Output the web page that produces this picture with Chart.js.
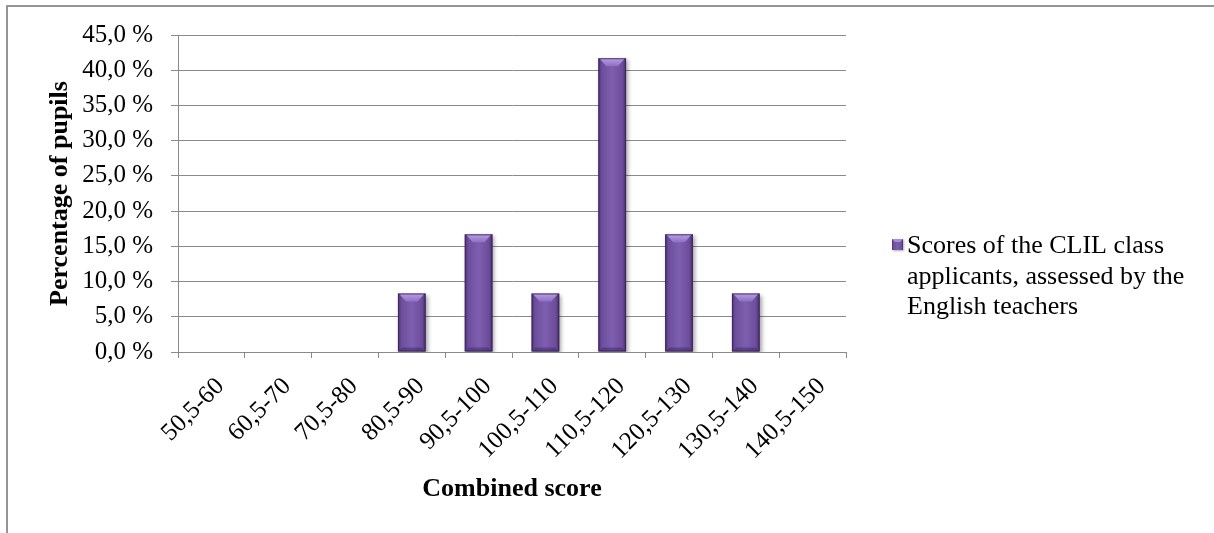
<!DOCTYPE html>
<html>
<head>
<meta charset="utf-8">
<script src="https://cdn.jsdelivr.net/npm/chart.js@4.4.1/dist/chart.umd.min.js"></script>
<style>
  html, body { margin: 0; padding: 0; background: #ffffff; }
  #wrap { position: relative; width: 1214px; height: 533px; overflow: hidden; }
  #frame { position: absolute; left: 6px; top: 5px; width: 1300px; height: 600px;
           border-left: 2px solid #959595; border-top: 2px solid #959595; box-sizing: border-box; }
  canvas { position: absolute; left: 0; top: 0; }
</style>
</head>
<body>
<div id="wrap">
  <div id="frame"></div>
  <canvas id="chart" width="1214" height="533"></canvas>
</div>
<script>
// Score bands of the combined score
const categories = ['50,5-60', '60,5-70', '70,5-80', '80,5-90', '90,5-100',
                    '100,5-110', '110,5-120', '120,5-130', '130,5-140', '140,5-150'];
// Share of pupils in each band (%)
const percentages = [0, 0, 0, 8.3, 16.7, 8.3, 41.7, 16.7, 8.3, 0];
// Series name, split over three lines as in the legend
const seriesLabel = ['Scores of the CLIL class', 'applicants, assessed by the', 'English teachers'];
// Value axis range
const yMin = 0, yMax = 45, yStep = 5;

const SERIF = '"Liberation Serif", "Times New Roman", serif';
const GRID = '#8a8a8a';
const BAR_PCT = 0.415;

function barFill(ctx, left, right) {
  const g = ctx.createLinearGradient(left, 0, right, 0);
  g.addColorStop(0, '#4c3274');
  g.addColorStop(0.13, '#6d4e9d');
  g.addColorStop(0.5, '#7e5eae');
  g.addColorStop(0.87, '#6c4c9b');
  g.addColorStop(1, '#472d6b');
  return g;
}

// Bevel highlight on top of each bar and soft drop shadow
const bevelPlugin = {
  id: 'bevel',
  beforeDatasetsDraw(chart) {
    const ctx = chart.ctx;
    ctx.save();
    ctx.shadowColor = 'rgba(0,0,0,0.35)';
    ctx.shadowBlur = 4;
    ctx.shadowOffsetX = 2;
    ctx.shadowOffsetY = 2;
  },
  afterDatasetsDraw(chart) {
    const ctx = chart.ctx;
    ctx.restore();
    const meta = chart.getDatasetMeta(0);
    meta.data.forEach((bar) => {
      const h = bar.base - bar.y;
      if (h < 1) return;
      const l = bar.x - bar.width / 2, r = bar.x + bar.width / 2;
      const t = bar.y, b = bar.base;
      const bv = Math.min(8, h / 2);
      // top face
      const gt = ctx.createLinearGradient(0, t, 0, t + bv);
      gt.addColorStop(0, '#b6a0e4');
      gt.addColorStop(1, '#8e6ec4');
      ctx.beginPath();
      ctx.moveTo(l + 1, t);
      ctx.lineTo(r - 1, t);
      ctx.lineTo(r - bv, t + bv);
      ctx.lineTo(l + bv, t + bv);
      ctx.closePath();
      ctx.fillStyle = gt;
      ctx.fill();
      // bottom face
      const bb = Math.min(4, h / 4);
      ctx.beginPath();
      ctx.moveTo(l + 1, b);
      ctx.lineTo(r - 1, b);
      ctx.lineTo(r - bb, b - bb);
      ctx.lineTo(l + bb, b - bb);
      ctx.closePath();
      ctx.fillStyle = 'rgba(60,35,95,0.45)';
      ctx.fill();
      // dark outline
      ctx.strokeStyle = 'rgba(55,35,85,0.8)';
      ctx.lineWidth = 1;
      ctx.strokeRect(l + 0.5, t + 0.5, r - l - 1, b - t - 1);
    });
  }
};

// Legend at the right, with a three-line label
const sideLegend = {
  id: 'sideLegend',
  afterDraw(chart) {
    const ctx = chart.ctx;
    const lines = chart.data.datasets[0].label;
    const x0 = 907, y0 = 253, lh = 30.5;
    ctx.save();
    // marker
    const mx = 892, my = 239, ms = 11;
    ctx.shadowColor = 'rgba(0,0,0,0.3)';
    ctx.shadowBlur = 2;
    ctx.shadowOffsetX = 1;
    ctx.shadowOffsetY = 1;
    ctx.fillStyle = barFill(ctx, mx, mx + ms);
    ctx.fillRect(mx, my, ms, ms);
    ctx.shadowColor = 'transparent';
    ctx.fillStyle = '#a98dd8';
    ctx.beginPath();
    ctx.moveTo(mx, my); ctx.lineTo(mx + ms, my); ctx.lineTo(mx + ms - 3, my + 3); ctx.lineTo(mx + 3, my + 3);
    ctx.closePath(); ctx.fill();
    // text
    ctx.fillStyle = '#000000';
    ctx.font = '26px ' + SERIF;
    ctx.textAlign = 'left';
    ctx.textBaseline = 'alphabetic';
    lines.forEach((s, i) => ctx.fillText(s, x0, y0 + i * lh));
    ctx.restore();
  }
};

new Chart(document.getElementById('chart'), {
  type: 'bar',
  data: {
    labels: categories,
    datasets: [{
      label: seriesLabel,
      data: percentages,
      backgroundColor: (c) => {
        const xs = c.chart.scales && c.chart.scales.x;
        if (!xs) return '#7356a3';
        const cx = xs.getPixelForValue(c.dataIndex);
        const w = (xs.width / categories.length) * BAR_PCT;
        if (!isFinite(cx) || !isFinite(w) || w <= 0) return '#7356a3';
        return barFill(c.chart.ctx, cx - w / 2, cx + w / 2);
      },
      borderWidth: 0,
      categoryPercentage: 1.0,
      barPercentage: BAR_PCT
    }]
  },
  options: {
    responsive: false,
    animation: false,
    devicePixelRatio: 1,
    layout: { padding: { left: 41, right: 368, top: 35, bottom: 24 } },
    plugins: {
      legend: { display: false },
      tooltip: { enabled: false }
    },
    scales: {
      x: {
        afterFit: (s) => { s.height = 157; },
        grid: {
          offset: true,
          drawOnChartArea: false,
          drawTicks: true,
          tickLength: 6,
          color: GRID,
          lineWidth: 1
        },
        border: { color: GRID, width: 1 },
        ticks: {
          autoSkip: false,
          minRotation: 45,
          maxRotation: 45,
          padding: 14,
          labelOffset: 9,
          color: '#000000',
          font: { family: SERIF, size: 25 }
        },
        title: {
          display: true,
          text: 'Combined score',
          color: '#000000',
          font: { family: SERIF, size: 26, weight: 'bold' },
          padding: { top: 4, bottom: 4 }
        }
      },
      y: {
        min: yMin,
        max: yMax,
        afterFit: (s) => { s.width = 137; },
        grid: {
          color: GRID,
          lineWidth: 1,
          drawTicks: true,
          tickLength: 7
        },
        border: { color: GRID, width: 1 },
        ticks: {
          stepSize: yStep,
          padding: 18,
          color: '#000000',
          font: { family: SERIF, size: 25 },
          callback: (v) => v.toFixed(1).replace('.', ',') + '\u00a0%'
        },
        title: {
          display: true,
          text: 'Percentage of pupils',
          color: '#000000',
          font: { family: SERIF, size: 26, weight: 'bold' },
          padding: { top: 4, bottom: 4 }
        }
      }
    }
  },
  plugins: [bevelPlugin, sideLegend]
});
</script>
</body>
</html>
